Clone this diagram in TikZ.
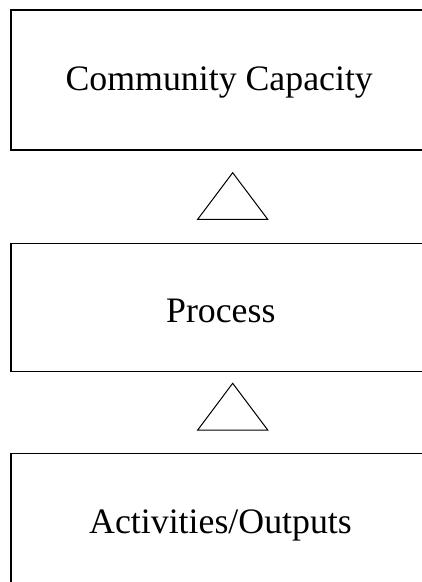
\documentclass[tikz,border=0pt]{standalone}
\usepackage{fontspec}
\setmainfont{Liberation Serif}
\begin{document}
\begin{tikzpicture}[x=1pt,y=-1pt,
  boxstyle/.style={draw=black,line width=1.3pt,rectangle,inner sep=0pt,minimum width=416pt},
  lbl/.style={anchor=base,inner sep=0pt,font=\fontsize{35.8}{40}\selectfont},
  tri/.style={draw=black,line width=1pt,line join=miter}]
\useasboundingbox (0,0) rectangle (422,582);
\clip (0,0) rectangle (422,582);
\fill[white] (0,0) rectangle (422,582);
\node[boxstyle,minimum height=140pt] (b1) at (219,80) {};
\node[boxstyle,minimum height=128.4pt] (b2) at (219,307.5) {};
\node[boxstyle,minimum height=140pt] (b3) at (219,523.3) {};
\node[lbl] (t1) at (219.2,90) {Community Capacity};
\node[lbl] (t2) at (220.8,322.7) {Process};
\node[lbl] (t3) at (220.5,533.3) {Activities/Outputs};
\coordinate (a1) at (232.7,172.7);
\coordinate (l1) at (197.7,219.3);
\coordinate (r1) at (267.7,219.3);
\coordinate (a2) at (232.7,383.3);
\coordinate (l2) at (197.7,430);
\coordinate (r2) at (267.7,430);
\draw[tri] (a1) -- (r1) -- (l1) -- cycle;
\draw[tri] (a2) -- (r2) -- (l2) -- cycle;
\end{tikzpicture}
\end{document}
